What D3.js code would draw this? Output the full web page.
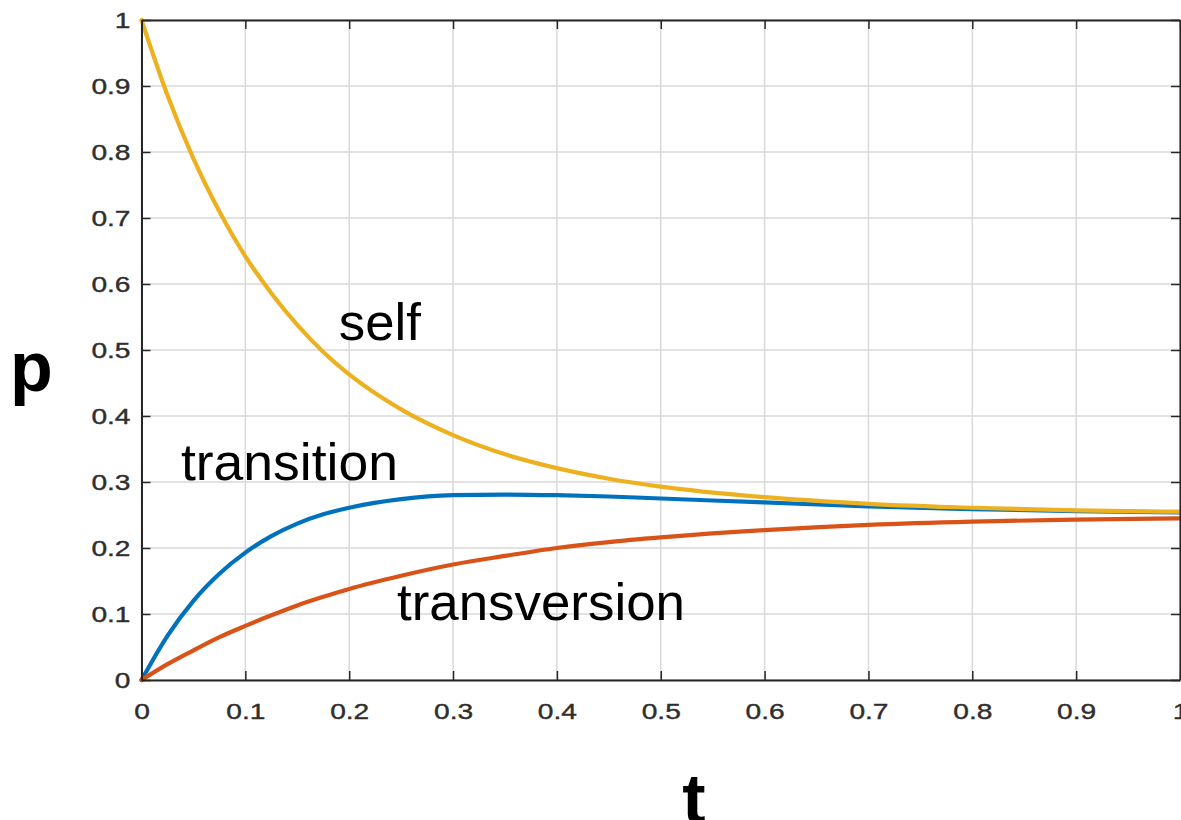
<!DOCTYPE html>
<html>
<head>
<meta charset="utf-8">
<script src="https://cdn.jsdelivr.net/npm/d3@7"></script>
<style>
  html, body { margin: 0; padding: 0; background: #fff; }
  svg { display: block; }
</style>
</head>
<body>
<svg id="chart" width="1181" height="820"></svg>
<script>
// ---- data ----
const tValues = [0, 0.025, 0.05, 0.075, 0.1, 0.125, 0.15, 0.175, 0.2, 0.25, 0.3, 0.35, 0.4, 0.45, 0.5, 0.6, 0.7, 0.8, 0.9, 1.0];
const selfValues = [1.0, 0.886, 0.790, 0.710, 0.642, 0.586, 0.538, 0.497, 0.463, 0.410, 0.371, 0.342, 0.321, 0.305, 0.293, 0.277, 0.267, 0.261, 0.257, 0.255];
const transitionValues = [0, 0.067, 0.120, 0.161, 0.193, 0.218, 0.237, 0.251, 0.261, 0.274, 0.280, 0.281, 0.280, 0.278, 0.275, 0.269, 0.263, 0.259, 0.256, 0.254];
const transversionValues = [0, 0.024, 0.045, 0.065, 0.082, 0.098, 0.113, 0.126, 0.138, 0.158, 0.175, 0.188, 0.200, 0.209, 0.216, 0.227, 0.235, 0.240, 0.243, 0.245];
const xTicks = [0, 0.1, 0.2, 0.3, 0.4, 0.5, 0.6, 0.7, 0.8, 0.9, 1];
const yTicks = [0, 0.1, 0.2, 0.3, 0.4, 0.5, 0.6, 0.7, 0.8, 0.9, 1];
const seriesNames = ["transition", "transversion", "self"];
const seriesColors = ["#0072BD", "#D95319", "#EDB120"];

(function () {
const svg = d3.select("#chart");
const pLeft = 141.5, pRight = 1180, pTop = 20, pBottom = 680;
const x = d3.scaleLinear().domain([0, 1]).range([pLeft, pRight]);
const y = d3.scaleLinear().domain([0, 1]).range([pBottom, pTop]);

// grid
const grid = svg.append("g");
grid.selectAll("line.vx").data(xTicks).join("line").attr("class", "vx")
  .attr("x1", d => x(d)).attr("x2", d => x(d)).attr("y1", pTop).attr("y2", pBottom)
  .attr("stroke", "#d9d9d9").attr("stroke-width", 1.5);
grid.selectAll("line.hy").data(yTicks).join("line").attr("class", "hy")
  .attr("x1", pLeft).attr("x2", pRight).attr("y1", d => y(d)).attr("y2", d => y(d))
  .attr("stroke", "#d9d9d9").attr("stroke-width", 1.5);

// series
const seriesData = [transitionValues, transversionValues, selfValues];
const line = d3.line().x((d, i) => x(tValues[i])).y(d => y(d)).curve(d3.curveMonotoneX);
svg.append("g").selectAll("path").data(seriesData).join("path")
  .attr("d", d => line(d))
  .attr("fill", "none")
  .attr("stroke", (d, i) => seriesColors[i])
  .attr("stroke-width", 4.2)
  .attr("stroke-linejoin", "round")
  .attr("stroke-linecap", "round");

// axes (MATLAB style box with inward ticks)
const axisColor = "#262626";
const sx = 1.28;
function styleAxis(g) {
  g.select(".domain").attr("stroke", axisColor).attr("stroke-width", 2);
  g.selectAll(".tick line").attr("stroke", axisColor).attr("stroke-width", 1.5);
  g.selectAll(".tick text").attr("fill", "#2e2e2e").attr("font-family", "'Liberation Sans', Arial, sans-serif")
    .attr("font-size", 22).attr("stroke", "#2e2e2e").attr("stroke-width", 0.4);
}
const fmt = d => String(+d.toFixed(1));
const xAxis = svg.append("g").attr("transform", `translate(0,${pBottom})`)
  .call(d3.axisBottom(x).tickValues(xTicks).tickFormat(fmt).tickSizeInner(-9).tickSizeOuter(0));
styleAxis(xAxis);
xAxis.selectAll(".tick text").attr("transform", `scale(${sx},1)`).attr("dy", "0.71em").attr("y", 23);

const yAxis = svg.append("g").attr("transform", `translate(${pLeft},0)`)
  .call(d3.axisLeft(y).tickValues(yTicks).tickFormat(fmt).tickSizeInner(-9).tickSizeOuter(0));
styleAxis(yAxis);
yAxis.selectAll(".tick text").attr("transform", `scale(${sx},1)`).attr("x", -11 / sx).attr("dy", "0.35em");

const xTop = svg.append("g").attr("transform", `translate(0,${pTop})`)
  .call(d3.axisTop(x).tickValues(xTicks).tickFormat("").tickSizeInner(-9).tickSizeOuter(0));
styleAxis(xTop);
const yRight = svg.append("g").attr("transform", `translate(${pRight},0)`)
  .call(d3.axisRight(y).tickValues(yTicks).tickFormat("").tickSizeInner(-9).tickSizeOuter(0));
styleAxis(yRight);

// curve labels
const labelFont = "'Liberation Sans', Arial, Helvetica, sans-serif";
const labels = [
  { text: "self", x: 0.19, y: 0.515, len: 82 },
  { text: "transition", x: 0.038, y: 0.303, len: 217 },
  { text: "transversion", x: 0.246, y: 0.091, len: 288 }
];
svg.append("g").selectAll("text").data(labels).join("text")
  .attr("x", d => x(d.x)).attr("y", d => y(d.y))
  .attr("font-family", labelFont).attr("font-size", 52).attr("fill", "#000")
  .attr("textLength", d => d.len).attr("lengthAdjust", "spacingAndGlyphs")
  .text(d => d.text);

// axis titles
svg.append("text").attr("x", 10).attr("y", 391)
  .attr("font-family", labelFont).attr("font-weight", "bold").attr("font-size", 70)
  .text("p");
svg.append("text").attr("x", 694).attr("y", 823).attr("text-anchor", "middle")
  .attr("font-family", labelFont).attr("font-weight", "bold").attr("font-size", 70)
  .text("t");
})();
</script>
</body>
</html>
